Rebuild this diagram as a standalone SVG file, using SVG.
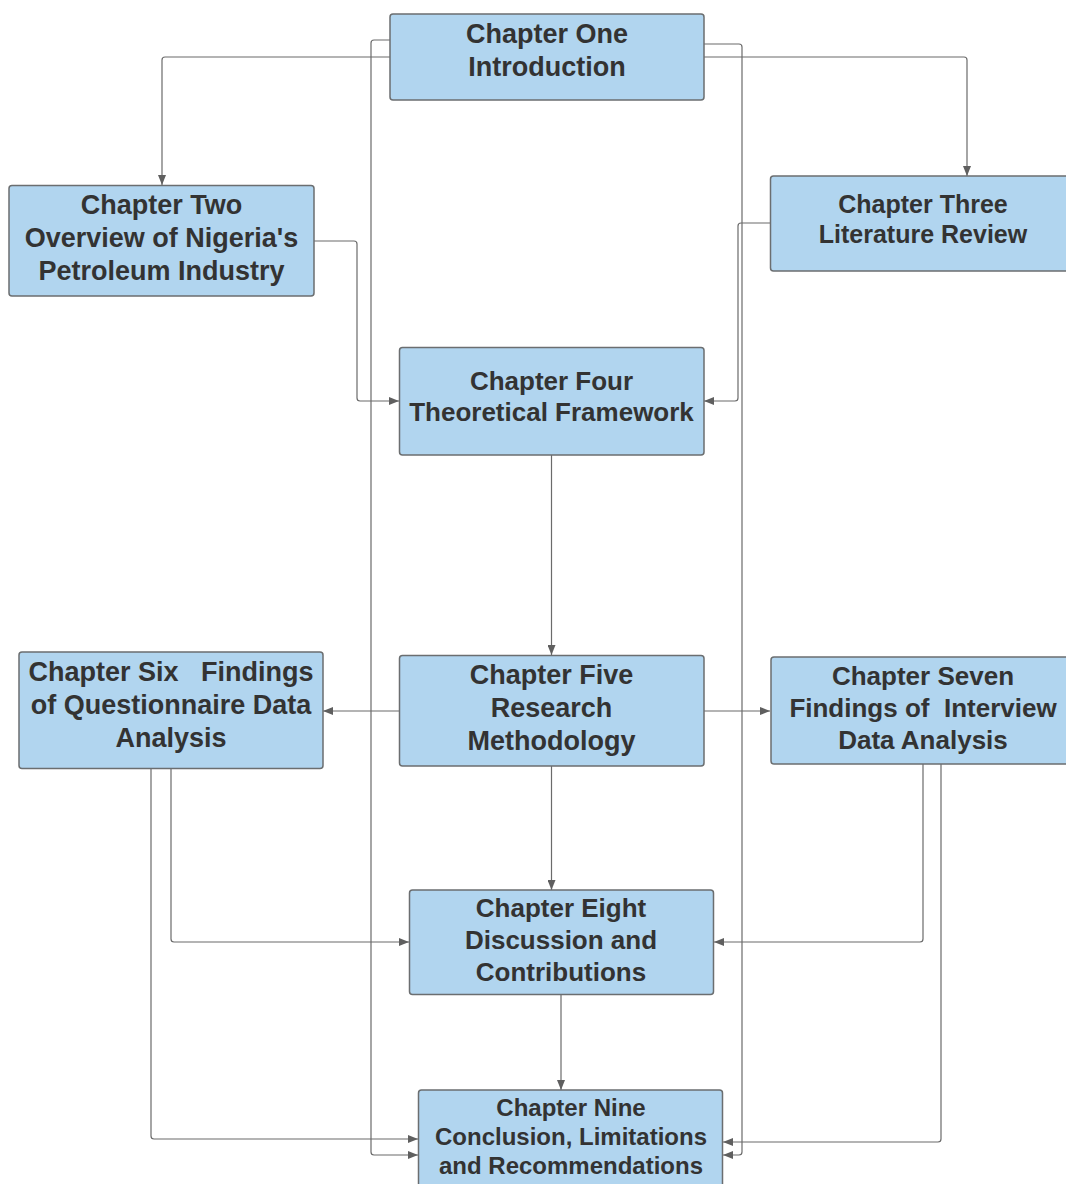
<svg xmlns="http://www.w3.org/2000/svg" width="1066" height="1184" viewBox="0 0 1066 1184">
  <style>
    .box { fill: #b1d5ef; stroke: #6b6e70; stroke-width: 1.5; }
    .lbl { font-family: "Liberation Sans", Arial, sans-serif; font-weight: bold; fill: #333333; text-anchor: middle; white-space: pre; }
    .edge { fill: none; stroke: #6b6b6b; stroke-width: 1.2; marker-end: url(#arrow); }
  </style>
  <defs>
    <marker id="arrow" markerUnits="userSpaceOnUse" markerWidth="10" markerHeight="8" viewBox="0 0 10 8" refX="10" refY="4" orient="auto">
      <path d="M0,0 L10,4 L0,8 Z" fill="#5f5f5f"/>
    </marker>
  </defs>
  <rect width="1066" height="1184" fill="#ffffff"/>

  <!-- connectors -->
  <g id="connectors">
    <path class="edge" d="M390,57 H165 Q162,57 162,60 V185"/>
    <path class="edge" d="M704,57 H964 Q967,57 967,60 V176"/>
    <path class="edge" d="M390,40 H374 Q371,40 371,43 V1152 Q371,1155 374,1155 H418"/>
    <path class="edge" d="M704,44 H739 Q742,44 742,47 V1152 Q742,1155 739,1155 H723"/>
    <path class="edge" d="M314,241 H354 Q357,241 357,244 V398 Q357,401 360,401 H399"/>
    <path class="edge" d="M770,223 H741 Q738,223 738,226 V398 Q738,401 735,401 H704"/>
    <path class="edge" d="M551.5,455 V655"/>
    <path class="edge" d="M399,711 H323"/>
    <path class="edge" d="M704,711 H770"/>
    <path class="edge" d="M551.5,766 V890"/>
    <path class="edge" d="M171,769 V939 Q171,942 174,942 H409"/>
    <path class="edge" d="M151,769 V1136 Q151,1139 154,1139 H418"/>
    <path class="edge" d="M923,764 V939 Q923,942 920,942 H714"/>
    <path class="edge" d="M941,764 V1139 Q941,1142 938,1142 H723"/>
    <path class="edge" d="M561,995 V1090"/>
  </g>

  <g id="ch1">
    <rect class="box" x="390" y="14" width="314" height="86" rx="3"/>
    <text class="lbl" x="547" font-size="27"><tspan x="547" y="42.5">Chapter One</tspan><tspan x="547" y="75.5">Introduction</tspan></text>
  </g>

  <g id="ch2">
    <rect class="box" x="9" y="185.5" width="305" height="110.5" rx="3"/>
    <text class="lbl" font-size="27"><tspan x="161.5" y="213.5">Chapter Two</tspan><tspan x="161.5" y="246.5">Overview of Nigeria's</tspan><tspan x="161.5" y="279.5">Petroleum Industry</tspan></text>
  </g>

  <g id="ch3">
    <rect class="box" x="770.5" y="176" width="306" height="95" rx="3"/>
    <text class="lbl" font-size="25"><tspan x="923" y="213">Chapter Three</tspan><tspan x="923" y="243">Literature Review</tspan></text>
  </g>

  <g id="ch4">
    <rect class="box" x="399.5" y="347.5" width="304.5" height="107.5" rx="3"/>
    <text class="lbl" font-size="26"><tspan x="551.5" y="390">Chapter Four</tspan><tspan x="551.5" y="421">Theoretical Framework</tspan></text>
  </g>

  <g id="ch5">
    <rect class="box" x="399.5" y="655.5" width="304.5" height="110.5" rx="3"/>
    <text class="lbl" font-size="27"><tspan x="551.5" y="683.5">Chapter Five</tspan><tspan x="551.5" y="716.5">Research</tspan><tspan x="551.5" y="749.5">Methodology</tspan></text>
  </g>

  <g id="ch6">
    <rect class="box" x="19" y="652" width="304" height="116.5" rx="3"/>
    <text class="lbl" font-size="27"><tspan x="171" y="680.5">Chapter Six   Findings</tspan><tspan x="171" y="713.5">of Questionnaire Data</tspan><tspan x="171" y="746.5">Analysis</tspan></text>
  </g>

  <g id="ch7">
    <rect class="box" x="771" y="657" width="305" height="107" rx="3"/>
    <text class="lbl" font-size="26"><tspan x="923" y="684.5">Chapter Seven</tspan><tspan x="923" y="716.5">Findings of  Interview</tspan><tspan x="923" y="748.5">Data Analysis</tspan></text>
  </g>

  <g id="ch8">
    <rect class="box" x="409.5" y="890" width="304" height="104.5" rx="3"/>
    <text class="lbl" font-size="26"><tspan x="561" y="917">Chapter Eight</tspan><tspan x="561" y="949">Discussion and</tspan><tspan x="561" y="980.5">Contributions</tspan></text>
  </g>

  <g id="ch9">
    <rect class="box" x="418.5" y="1090" width="304" height="120" rx="3"/>
    <text class="lbl" font-size="24"><tspan x="571" y="1115.5">Chapter Nine</tspan><tspan x="571" y="1144.5">Conclusion, Limitations</tspan><tspan x="571" y="1173.5">and Recommendations</tspan></text>
  </g>
</svg>
